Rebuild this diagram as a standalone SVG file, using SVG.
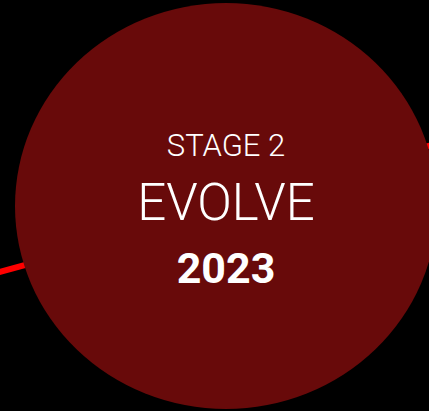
<svg xmlns="http://www.w3.org/2000/svg" width="429" height="411" viewBox="0 0 429 411">
<style>
.t{font-family:Roboto,"Liberation Sans",sans-serif;fill:#ffffff;text-anchor:middle}
.conn{stroke:#ff0000;stroke-width:6;fill:none}
</style>
<rect x="0" y="0" width="429" height="411" fill="#000000"/>
<g id="connectors">
<line class="conn" x1="-10" y1="274.5" x2="120" y2="239"/>
<line class="conn" x1="330" y1="172" x2="440" y2="143"/>
</g>
<g id="stage2">
<ellipse cx="226" cy="206" rx="211" ry="203" fill="#680a0a"/>
<text class="t" x="226" y="156" font-size="31" font-weight="300">STAGE 2</text>
<text class="t" x="226" y="220" font-size="51" font-weight="300">EVOLVE</text>
<text class="t" x="226" y="283" font-size="43" font-weight="700">2023</text>
</g>
</svg>
